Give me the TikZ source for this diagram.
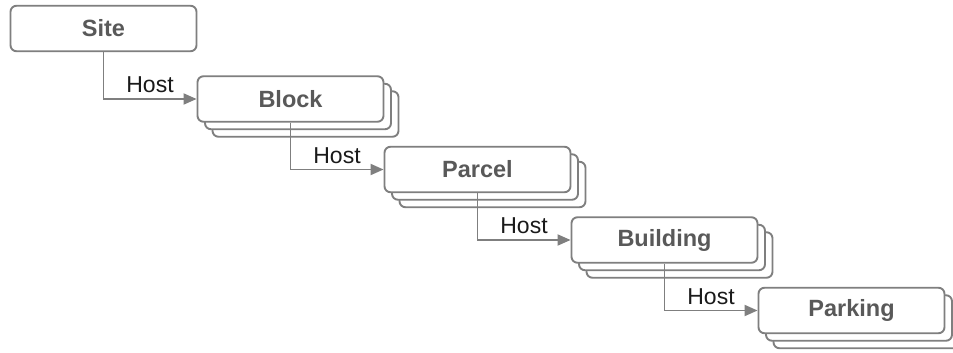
\documentclass[tikz,border=0pt]{standalone}
\usepackage{fontspec}
\setmainfont{Liberation Sans}
\usetikzlibrary{arrows.meta}
\definecolor{lineg}{HTML}{7F7F7F}
\definecolor{txtg}{HTML}{595959}
\definecolor{hostc}{HTML}{1A1A1A}
\begin{document}
\begin{tikzpicture}[x=1pt,y=-1pt,
  ghost/.style={draw=lineg, line width=1.9pt, rounded corners=6pt, fill=white,
    minimum width=186pt, minimum height=45.5pt, inner sep=0pt},
  box/.style={ghost, font=\fontsize{23.5}{26}\selectfont\bfseries, text=txtg},
  conn/.style={draw=lineg, line width=1.9pt, -{Triangle[length=13pt,width=11pt]}},
  lbl/.style={font=\fontsize{23}{26}\selectfont, text=hostc, anchor=south, inner sep=5pt}]
\useasboundingbox (0,0) rectangle (953,353);
\clip (0,0) rectangle (953,353);
\fill[white] (0,0) rectangle (953,353);
% stacked copies
\foreach \k/\nm in {1/b,2/p,3/u,4/k}{
  \node[ghost] (\nm g2) at ({103.5+187*\k+15},{28.5+70.5*\k+15}) {};
  \node[ghost] (\nm g1) at ({103.5+187*\k+7.5},{28.5+70.5*\k+7.5}) {};
}
\node[box] (site) at (103.5,28.5) {Site};
\node[box] (block) at (290.5,99) {Block};
\node[box] (parcel) at (477.5,169.5) {Parcel};
\node[box] (building) at (664.5,240) {Building};
\node[box] (parking) at (851.5,310.5) {Parking};
\draw[conn] (site.south) |- node[pos=0.75, lbl] {Host} (block.west);
\draw[conn] (block.south) |- node[pos=0.75, lbl] {Host} (parcel.west);
\draw[conn] (parcel.south) |- node[pos=0.75, lbl] {Host} (building.west);
\draw[conn] (building.south) |- node[pos=0.75, lbl] {Host} (parking.west);
\end{tikzpicture}
\end{document}
